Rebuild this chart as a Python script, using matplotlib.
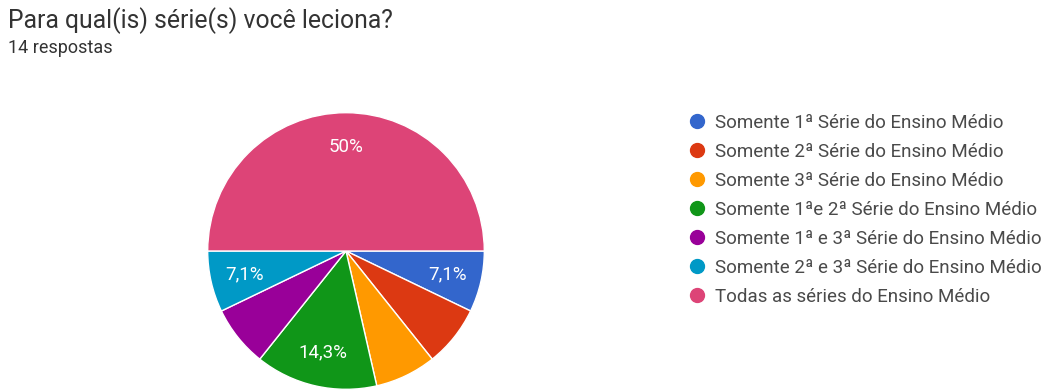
import matplotlib
matplotlib.use("Agg")
import matplotlib.pyplot as plt
from matplotlib.lines import Line2D

plt.rcParams['font.family'] = ['Roboto', 'DejaVu Sans']

title = "Para qual(is) série(s) você leciona?"
subtitle = "14 respostas"
categories = [
    "Somente 1ª Série do Ensino Médio",
    "Somente 2ª Série do Ensino Médio",
    "Somente 3ª Série do Ensino Médio",
    "Somente 1ªe 2ª Série do Ensino Médio",
    "Somente 1ª e 3ª Série do Ensino Médio",
    "Somente 2ª e 3ª Série do Ensino Médio",
    "Todas as séries do Ensino Médio",
]
counts = [1, 1, 1, 2, 1, 1, 7]
colors = ["#3366CC", "#DC3912", "#FF9900", "#109618", "#990099", "#0099C6", "#DD4477"]
show_label = [True, False, False, True, False, True, True]

W, H = 1048, 392
fig = plt.figure(figsize=(W / 100, H / 100), dpi=100)

cx, cy, r = 346, 251, 139
ax = fig.add_axes([(cx - r) / W, (H - cy - r) / H, 2 * r / W, 2 * r / H])


def fmt(p):
    s = f"{p:.1f}".replace(".", ",")
    if s.endswith(",0"):
        s = s[:-2]
    return s + "%"


wedges, texts, autotexts = ax.pie(
    counts, colors=colors, startangle=0, counterclock=False,
    autopct=fmt, pctdistance=0.75,
    wedgeprops=dict(edgecolor="white", linewidth=1),
    textprops=dict(color="white", fontsize=13.5),
)
for t, s in zip(autotexts, show_label):
    t.set_visible(s)
ax.set_xlim(-1.005, 1.005)
ax.set_ylim(-1.005, 1.005)
ax.set_aspect("equal")

fig.text(8 / W, 1 - 21 / H, title, fontsize=17.8, color="#333333", va="center", ha="left")
fig.text(8 / W, 1 - 48 / H, subtitle, fontsize=13, color="#333333", va="center", ha="left")

handles = [Line2D([], [], marker="o", linestyle="none", markersize=10,
                  markerfacecolor=c, markeredgecolor=c) for c in colors]
leg = fig.legend(handles, categories, loc="upper left",
                 bbox_to_anchor=(688 / W, 1 - 114 / H), frameon=False,
                 fontsize=13.5, labelspacing=0.585, handletextpad=0.45,
                 handlelength=1.0, borderaxespad=0, borderpad=0)
for t in leg.get_texts():
    t.set_color("#4a4a4a")

fig.savefig("out.png", dpi=100, facecolor="white")
